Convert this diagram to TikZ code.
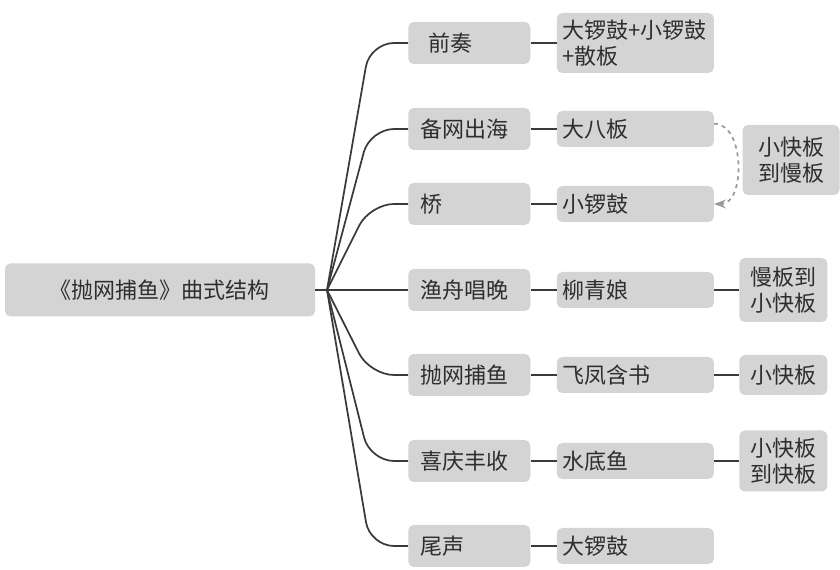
\documentclass[tikz,border=0pt]{standalone}
\usepackage{fontspec}
\setmainfont{Noto Sans CJK SC}
\usetikzlibrary{positioning, arrows.meta}
\definecolor{boxgray}{HTML}{D4D4D4}
\definecolor{inkgray}{HTML}{2E2E2E}
\definecolor{linegray}{HTML}{3A3A3A}
\definecolor{dashgray}{HTML}{9A9A9A}
\tikzset{
  cell/.style={fill=boxgray, rounded corners=4pt, text=inkgray, font=\fontsize{16.5}{19.5}\selectfont},
  rootbox/.style={cell, minimum width=232.5pt, minimum height=39.75pt},
  partbox/.style={cell, anchor=west, minimum width=91.5pt, minimum height=31.5pt, text width=73.5pt, inner xsep=9pt, align=left},
  tunebox/.style={cell, minimum width=117.75pt, minimum height=27pt, text width=109.75pt, inner xsep=4pt, align=left},
  tempobox/.style={cell, minimum width=66pt, minimum height=30pt, inner xsep=2pt, align=center},
  link/.style={draw=linegray, line width=1.3pt},
  >=Stealth,
}

\begin{document}
\begin{tikzpicture}[x=0.75pt, y=-0.75pt]
    \useasboundingbox (0,0) rectangle (840,570);
    \node[rootbox] (root) at (160,290) {《抛网捕鱼》曲式结构};
    \coordinate (hub) at (327,290);
    \coordinate (bend) at (370,290);
    % sections
    \node[partbox] (p1) at (408,43) {\hspace{6.5pt}前奏};
    \node[partbox] (p2) at (408,129) {备网出海};
    \node[partbox] (p3) at (408,204) {桥};
    \node[partbox] (p4) at (408,290) {渔舟唱晚};
    \node[partbox] (p5) at (408,375) {抛网捕鱼};
    \node[partbox] (p6) at (408,461) {喜庆丰收};
    \node[partbox] (p7) at (408,546) {尾声};
    % tunes
    \node[tunebox, right=19.5pt of p1, minimum height=45pt] (t1) {大锣鼓+小锣鼓\\+散板};
    \node[tunebox, right=19.5pt of p2] (t2) {大八板};
    \node[tunebox, right=19.5pt of p3] (t3) {小锣鼓};
    \node[tunebox, right=19.5pt of p4] (t4) {柳青娘};
    \node[tunebox, right=19.5pt of p5] (t5) {飞凤含书};
    \node[tunebox, right=19.5pt of p6] (t6) {水底鱼};
    \node[tunebox, right=19.5pt of p7] (t7) {大锣鼓};
    % tempo
    \node[tempobox, minimum width=72.75pt, minimum height=52.5pt] (s2) at (791,160) {小快板\\到慢板};
    \node[tempobox, right=18.75pt of t4, minimum height=48pt] (s4) {慢板到\\小快板};
    \node[tempobox, right=18.75pt of t5] (s5) {小快板};
    \node[tempobox, right=18.75pt of t6, minimum height=45.75pt] (s6) {小快板\\到快板};

    \draw[link] (root.east) -- (hub);
    \foreach \p in {p1,p2,p3,p4,p5,p6,p7}
      \draw[link, rounded corners=18pt] (hub) -- (\p.west -| bend) -- (\p.west);
    \foreach \p/\t in {p1/t1,p2/t2,p3/t3,p4/t4,p5/t5,p6/t6,p7/t7}
      \draw[link] (\p.east) -- (\t.west);
    \foreach \t/\s in {t4/s4,t5/s5,t6/s6}
      \draw[link] (\t.east) -- (\s.west);
    \draw[dashgray, dashed, line width=1.3pt, ->] ([yshift=4pt]t2.east) to[out=0, in=0] (t3.east);
\end{tikzpicture}
\end{document}
